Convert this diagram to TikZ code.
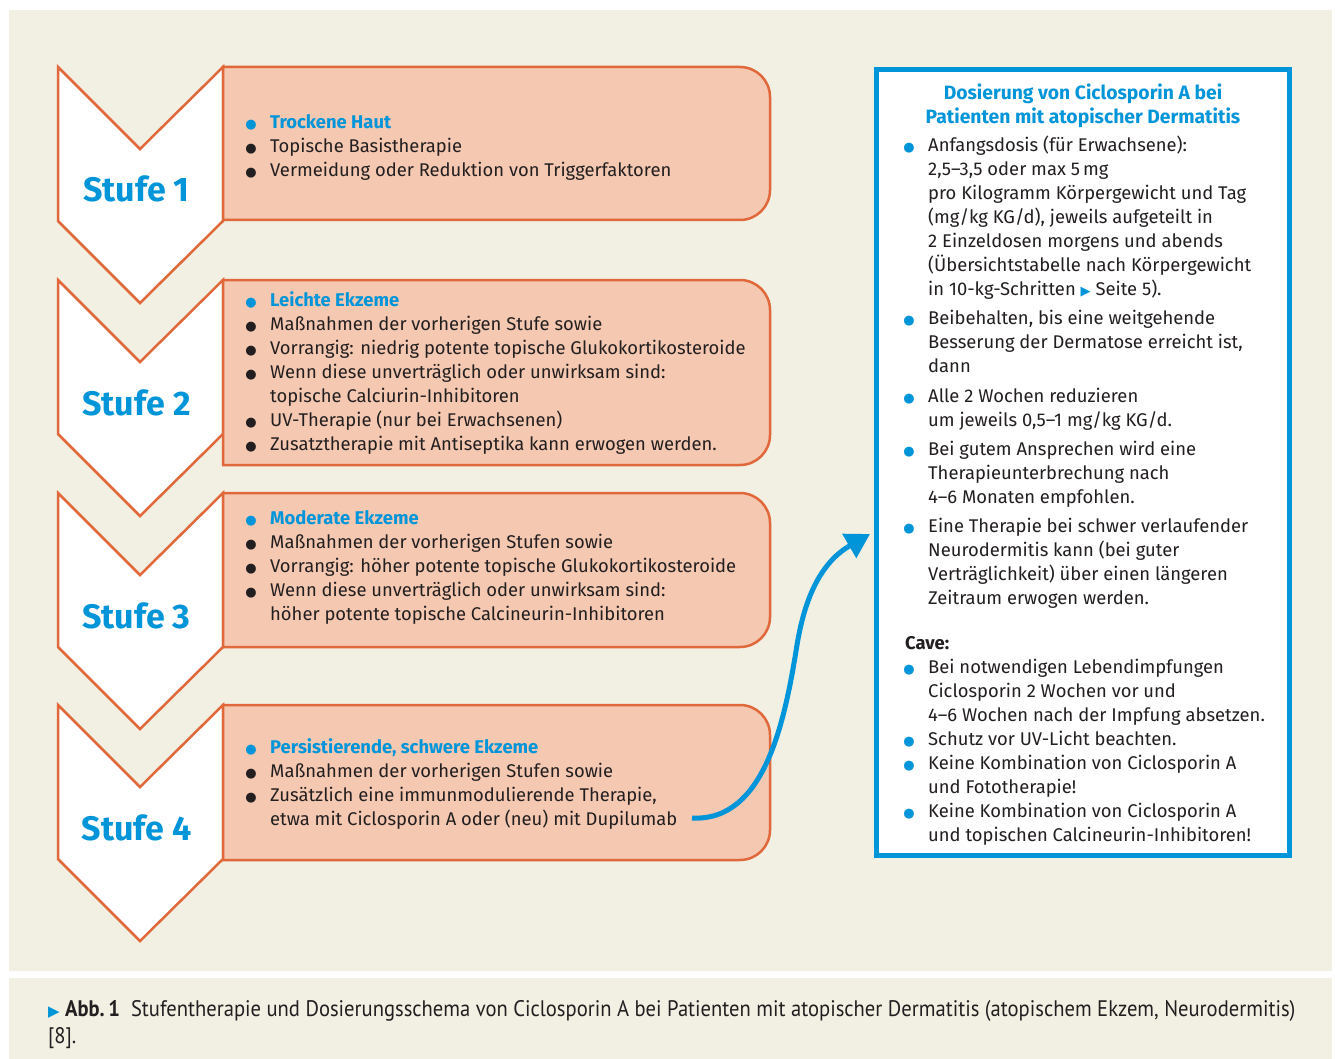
\documentclass[tikz,border=0pt]{standalone}
\usepackage{fontspec}
\setmainfont{Fira Sans}
\newfontfamily\symfont{DejaVu Sans}
\newfontfamily\capfont[FakeStretch=0.915]{PT Sans}
\usetikzlibrary{arrows.meta}

\definecolor{bgbeige}{HTML}{F2EFE3}
\definecolor{stepfill}{HTML}{F4C8B1}
\definecolor{steporange}{HTML}{E0683B}
\definecolor{cyanblue}{HTML}{0095D8}
\definecolor{textdark}{HTML}{231F20}

% bullet in front of a list line
\newcommand{\bul}[1][textdark]{\strut\llap{\textcolor{#1}{\symfont\fontsize{13}{13}\selectfont●}\hspace{13.5pt}}}
\newcommand{\pointer}[1][13]{{\symfont\fontsize{#1}{#1}\selectfont\textcolor{cyanblue}{▶}}}

\begin{document}
\begin{tikzpicture}[x=1pt,y=-1pt,
  chevron/.style={fill=white,draw=steporange,line width=2.5pt,line join=miter},
  stepbox/.style={fill=stepfill,draw=steporange,line width=2.5pt},
  steplabel/.style={anchor=base,inner sep=0pt,text=cyanblue,font=\fontsize{34}{34}\selectfont\bfseries},
  steptext/.style={anchor=north west,inner sep=0pt,align=left,text=textdark,font=\fontsize{18.4}{24}\selectfont},
  dosebox/.style={draw=cyanblue,fill=white,line width=5pt,minimum width=413pt,minimum height=786pt,inner sep=0pt},
  dosetitle/.style={anchor=north,inner sep=0pt,align=center,text=cyanblue,font=\fontsize{19.3}{24}\selectfont\bfseries},
  caption/.style={anchor=north west,inner sep=0pt,align=left,text=textdark,font=\capfont\fontsize{22.5}{27}\selectfont},
  flowarrow/.style={draw=cyanblue,line width=5pt,-{Triangle[length=24pt,width=27pt]}},
]
\useasboundingbox (0,0) rectangle (1335,1059);
\fill[bgbeige] (9,10) rectangle (1332,971);
\fill[bgbeige] (9,978) rectangle (1332,1059);

% the four steps
\foreach \y/\b/\n in {67/220/1,280/465/2,493/647/3,705/860/4}{
  \draw[chevron] (58,\y) -- (140,\y+82) -- (223,\y) -- (223,\y+154) -- (140,\y+236) -- (58,\y+154) -- cycle;
  \draw[stepbox] (223,\y) -- (740,\y) arc[start angle=270,end angle=360,radius=30]
    -- (770,\b-30) arc[start angle=0,end angle=90,radius=30] -- (223,\b) -- cycle;
  \node[steplabel] (stufe\n) at (136.5,\y+135) {Stufe \n};
}

\node[steptext] (text1) at (270,111.2) {\bul[cyanblue]\textcolor{cyanblue}{\bfseries Trockene Haut}\\
  \bul Topische Basistherapie\\
  \bul Vermeidung oder Reduktion von Triggerfaktoren};
\node[steptext] (text2) at (270,289.2) {\bul[cyanblue]\textcolor{cyanblue}{\bfseries Leichte Ekzeme}\\
  \bul Maßnahmen der vorherigen Stufe sowie\\
  \bul Vorrangig: niedrig potente topische Glukokortikosteroide\\
  \bul Wenn diese unverträglich oder unwirksam sind:\\
  \strut topische Calciurin-Inhibitoren\\
  \bul UV-Therapie (nur bei Erwachsenen)\\
  \bul Zusatztherapie mit Antiseptika kann erwogen werden.};
\node[steptext] (text3) at (270,507.2) {\bul[cyanblue]\textcolor{cyanblue}{\bfseries Moderate Ekzeme}\\
  \bul Maßnahmen der vorherigen Stufen sowie\\
  \bul Vorrangig: höher potente topische Glukokortikosteroide\\
  \bul Wenn diese unverträglich oder unwirksam sind:\\
  \strut höher potente topische Calcineurin-Inhibitoren};
\node[steptext] (text4) at (270,736.2) {\bul[cyanblue]\textcolor{cyanblue}{\bfseries Persistierende, schwere Ekzeme}\\
  \bul Maßnahmen der vorherigen Stufen sowie\\
  \bul Zusätzlich eine immunmodulierende Therapie,\\
  \strut etwa mit Ciclosporin A oder (neu) mit Dupilumab};

% dosage panel
\node[dosebox] (dose) at (1083,462.5) {};
\node[dosetitle] (dosehead) at (1083,82.2) {\strut Dosierung von Ciclosporin A bei\\Patienten mit atopischer Dermatitis};
\node[steptext] (doselist) at (928,134.2) {\bul[cyanblue]Anfangsdosis (für Erwachsene):\\
  \strut 2,5–3,5 oder max 5\,mg\\
  pro Kilogramm Körpergewicht und Tag\\
  (mg/kg KG/d), jeweils aufgeteilt in\\
  2 Einzeldosen morgens und abends\\
  (Übersichtstabelle nach Körpergewicht\\
  in 10-kg-Schritten \pointer\ Seite 5).\\[5pt]
  \bul[cyanblue]Beibehalten, bis eine weitgehende\\
  Besserung der Dermatose erreicht ist,\\
  dann\\[6pt]
  \bul[cyanblue]Alle 2 Wochen reduzieren\\
  um jeweils 0,5–1 mg/kg KG/d.\\[5pt]
  \bul[cyanblue]Bei gutem Ansprechen wird eine\\
  Therapieunterbrechung nach\\
  4–6 Monaten empfohlen.\\[5pt]
  \bul[cyanblue]Eine Therapie bei schwer verlaufender\\
  Neurodermitis kann (bei guter\\
  Verträglichkeit) über einen längeren\\
  Zeitraum erwogen werden.};
\node[steptext,anchor=base west] (cave) at (905,649) {\bfseries Cave:};
\node[steptext] (cavelist) at (928,656.2) {\bul[cyanblue]Bei notwendigen Lebendimpfungen\\
  Ciclosporin 2 Wochen vor und\\
  4–6 Wochen nach der Impfung absetzen.\\
  \bul[cyanblue]Schutz vor UV-Licht beachten.\\
  \bul[cyanblue]Keine Kombination von Ciclosporin A\\
  und Fototherapie!\\
  \bul[cyanblue]Keine Kombination von Ciclosporin A\\
  und topischen Calcineurin-Inhibitoren!};

% arrow from step 4 to the panel
\coordinate (arrowtail) at (692,818);
\coordinate (arrowtip) at (870,534);
\draw[flowarrow] (arrowtail) .. controls (765,822) and (785,720) .. (797,645)
  .. controls (806,590) and (825,560) .. (arrowtip);

% caption
\node[caption] (figcaption) at (48,997.1) {\strut\pointer[15]\ \textbf{Abb.\,1}\hspace{11pt}Stufentherapie und Dosierungsschema von Ciclosporin A bei Patienten mit atopischer Dermatitis (atopischem Ekzem, Neurodermitis)\\
  \strut [8].};
\end{tikzpicture}
\end{document}
